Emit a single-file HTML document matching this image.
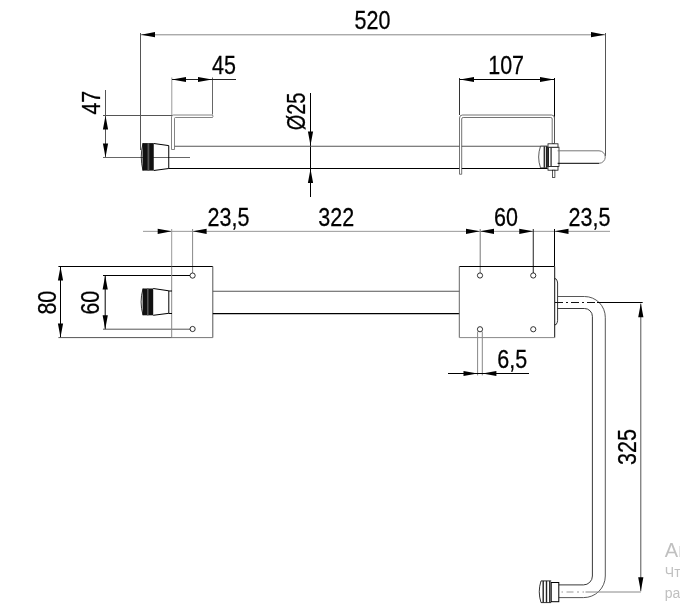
<!DOCTYPE html>
<html><head><meta charset="utf-8"><style>
html,body{margin:0;padding:0;background:#fff;width:680px;height:614px;overflow:hidden}
svg{display:block}
text{font-family:"Liberation Sans",sans-serif;fill:#000;stroke:#000;stroke-width:0.28px}
svg{filter:grayscale(1)}
.wm{position:absolute;left:664.8px;font-family:"Liberation Sans",sans-serif;color:#c0c0c0;white-space:nowrap;filter:grayscale(1)}
</style></head><body>
<svg width="680" height="614" viewBox="0 0 680 614">
<line x1="140.50" y1="34.80" x2="605.50" y2="34.80" stroke="#888" stroke-width="1.00"/>
<line x1="140.50" y1="33.00" x2="140.50" y2="150.00" stroke="#555" stroke-width="1.00"/>
<line x1="605.50" y1="33.00" x2="605.50" y2="156.00" stroke="#555" stroke-width="1.00"/>
<polygon points="141.00,34.70 155.00,32.10 155.00,37.30" fill="#000"/>
<polygon points="605.00,34.70 591.00,32.10 591.00,37.30" fill="#000"/>
<text transform="translate(354.50,29.40) scale(0.850,1)" font-size="25.30">520</text>
<line x1="171.80" y1="77.50" x2="171.80" y2="115.00" stroke="#999" stroke-width="1.00"/>
<line x1="212.50" y1="77.50" x2="212.50" y2="114.50" stroke="#666" stroke-width="1.00"/>
<line x1="172.00" y1="79.50" x2="236.00" y2="79.50" stroke="#222" stroke-width="1.00"/>
<polygon points="172.00,79.50 186.00,76.90 186.00,82.10" fill="#000"/>
<polygon points="212.00,79.50 198.00,76.90 198.00,82.10" fill="#000"/>
<text transform="translate(212.00,74.10) scale(0.850,1)" font-size="25.30">45</text>
<line x1="459.50" y1="78.00" x2="459.50" y2="115.00" stroke="#333" stroke-width="1.00"/>
<line x1="554.50" y1="78.00" x2="554.50" y2="143.00" stroke="#000" stroke-width="1.00"/>
<line x1="459.50" y1="79.50" x2="554.50" y2="79.50" stroke="#000" stroke-width="1.00"/>
<polygon points="460.00,79.50 474.00,76.90 474.00,82.10" fill="#000"/>
<polygon points="554.00,79.50 540.00,76.90 540.00,82.10" fill="#000"/>
<text transform="translate(488.20,74.10) scale(0.850,1)" font-size="25.30">107</text>
<line x1="105.50" y1="90.00" x2="105.50" y2="157.50" stroke="#555" stroke-width="1.00"/>
<line x1="103.00" y1="115.50" x2="172.00" y2="115.50" stroke="#555" stroke-width="1.00"/>
<line x1="103.00" y1="157.50" x2="190.00" y2="157.50" stroke="#666" stroke-width="1.00"/>
<polygon points="105.50,115.50 102.90,129.50 108.10,129.50" fill="#000"/>
<polygon points="105.50,157.50 102.90,143.50 108.10,143.50" fill="#000"/>
<text transform="translate(100.00,114.60) rotate(-90) scale(0.850,1)" font-size="25.30">47</text>
<line x1="310.50" y1="93.00" x2="310.50" y2="197.00" stroke="#000" stroke-width="1.00"/>
<polygon points="310.50,145.50 307.90,131.50 313.10,131.50" fill="#000"/>
<polygon points="310.50,169.00 307.90,183.00 313.10,183.00" fill="#000"/>
<text transform="translate(305.40,130.30) rotate(-90) scale(0.790,1)" font-size="25.30">&#216;25</text>
<line x1="172.50" y1="146.25" x2="547.60" y2="146.25" stroke="#555" stroke-width="1.00"/>
<line x1="168.75" y1="168.50" x2="547.60" y2="168.50" stroke="#000" stroke-width="1.20"/>
<rect x="142.5" y="143.1" width="11.25" height="27.5" fill="#111"/>
<rect x="147.5" y="143.1" width="1.8" height="27.5" fill="#555"/>
<path d="M153.75,143.5 L168.75,145.6 L168.75,168.5 L153.75,170.5" fill="none" stroke="#000" stroke-width="1"/>
<path d="M143,143.3 Q139.5,157 143,170.5" fill="none" stroke="#000" stroke-width="0.8"/>
<path d="M171.5,149.5 L171.5,117 Q171.5,115 173.5,115 L212.5,115 Q213.5,116.25 212.5,117.5 L175.5,117.5 Q174.5,117.5 174.5,118.5 L174.5,149.5 Z" fill="#fff" stroke="#666" stroke-width="0.8"/>
<path d="M459.5,174.25 L459.5,118 Q459.5,115 462.5,115 L551.5,115 Q554.5,115 554.5,118 L554.5,143.5 L552.2,143.5 L552.2,119 Q552.2,117.5 550.7,117.5 L463.2,117.5 Q461.7,117.5 461.7,119 L461.7,174.25 Z" fill="#fff" stroke="#444" stroke-width="0.75"/>
<path d="M547.3,146.2 L540.5,146.2 Q536.8,157 540.5,167.8 L547.3,167.8" fill="#fff" stroke="#111" stroke-width="0.7"/>
<rect x="543.6" y="146.2" width="1.6" height="21.6" fill="#333"/>
<rect x="546" y="146.2" width="1.3" height="21.6" fill="#222"/>
<rect x="547.3" y="147.2" width="11.7" height="19.2" fill="#fff" stroke="#222" stroke-width="0.8"/>
<rect x="547.3" y="147.2" width="1.7" height="19.2" fill="#222"/>
<rect x="550.4" y="147.2" width="1.4" height="19.2" fill="#444"/>
<rect x="548" y="143.8" width="10" height="3.4" fill="#fff" stroke="#111" stroke-width="0.8"/>
<rect x="548" y="166.4" width="10" height="3.8" fill="#fff" stroke="#111" stroke-width="0.8"/>
<path d="M557.6,150.8 L599,150.8 A6.25,6.25 0 0 1 599,163.3" fill="none" stroke="#777" stroke-width="1"/>
<path d="M599,163.3 L557.6,163.3" fill="none" stroke="#000" stroke-width="1"/>
<rect x="552.5" y="170.2" width="2.4" height="7.2" fill="#fff" stroke="#111" stroke-width="0.7"/>
<line x1="143.00" y1="231.35" x2="610.00" y2="231.35" stroke="#999" stroke-width="1.00"/>
<polygon points="171.70,231.35 157.70,228.75 157.70,233.95" fill="#000"/>
<polygon points="192.60,231.35 206.60,228.75 206.60,233.95" fill="#000"/>
<polygon points="480.00,231.35 466.00,228.75 466.00,233.95" fill="#000"/>
<polygon points="480.00,231.35 494.00,228.75 494.00,233.95" fill="#000"/>
<polygon points="533.25,231.35 519.25,228.75 519.25,233.95" fill="#000"/>
<polygon points="554.50,231.35 568.50,228.75 568.50,233.95" fill="#000"/>
<line x1="171.70" y1="229.00" x2="171.70" y2="266.50" stroke="#999" stroke-width="1.00"/>
<line x1="192.60" y1="229.00" x2="192.60" y2="273.00" stroke="#888" stroke-width="1.00"/>
<line x1="480.20" y1="229.00" x2="480.20" y2="273.00" stroke="#777" stroke-width="1.00"/>
<line x1="533.25" y1="229.00" x2="533.25" y2="273.00" stroke="#222" stroke-width="1.00"/>
<line x1="554.50" y1="229.00" x2="554.50" y2="266.00" stroke="#000" stroke-width="1.00"/>
<text transform="translate(207.50,225.60) scale(0.850,1)" font-size="25.30">23,5</text>
<text transform="translate(318.30,225.60) scale(0.850,1)" font-size="25.30">322</text>
<text transform="translate(494.00,225.60) scale(0.850,1)" font-size="25.30">60</text>
<text transform="translate(568.50,225.60) scale(0.850,1)" font-size="25.30">23,5</text>
<line x1="60.50" y1="266.20" x2="60.50" y2="337.60" stroke="#000" stroke-width="1.00"/>
<line x1="58.40" y1="266.50" x2="172.00" y2="266.50" stroke="#000" stroke-width="1.00"/>
<line x1="58.40" y1="337.60" x2="172.00" y2="337.60" stroke="#555" stroke-width="1.00"/>
<polygon points="60.50,266.50 57.90,280.50 63.10,280.50" fill="#000"/>
<polygon points="60.50,337.60 57.90,323.60 63.10,323.60" fill="#000"/>
<text transform="translate(55.60,314.60) rotate(-90) scale(0.850,1)" font-size="25.30">80</text>
<line x1="105.20" y1="275.50" x2="105.20" y2="329.20" stroke="#000" stroke-width="1.00"/>
<line x1="103.00" y1="275.50" x2="190.00" y2="275.50" stroke="#000" stroke-width="1.00"/>
<line x1="103.00" y1="329.20" x2="190.00" y2="329.20" stroke="#555" stroke-width="1.00"/>
<polygon points="105.20,275.50 102.60,289.50 107.80,289.50" fill="#000"/>
<polygon points="105.20,329.20 102.60,315.20 107.80,315.20" fill="#000"/>
<text transform="translate(99.30,314.60) rotate(-90) scale(0.850,1)" font-size="25.30">60</text>
<line x1="172.00" y1="266.50" x2="212.80" y2="266.50" stroke="#000" stroke-width="1.00"/>
<line x1="171.70" y1="266.50" x2="171.70" y2="337.60" stroke="#888" stroke-width="1.00"/>
<line x1="212.80" y1="266.50" x2="212.80" y2="337.60" stroke="#555" stroke-width="1.00"/>
<line x1="172.00" y1="337.60" x2="212.80" y2="337.60" stroke="#777" stroke-width="1.00"/>
<circle cx="192.6" cy="275.6" r="2.6" fill="#fff" stroke="#000" stroke-width="0.8"/>
<circle cx="192.6" cy="329" r="2.6" fill="#fff" stroke="#000" stroke-width="0.8"/>
<rect x="142.6" y="288.5" width="10.6" height="26.8" fill="#111"/>
<rect x="147" y="288.5" width="1.6" height="26.8" fill="#555"/>
<path d="M153.2,288.5 L168.8,290.8 L168.8,313.3 L153.2,315.3" fill="none" stroke="#000" stroke-width="1"/>
<path d="M143,288.7 Q139.2,302 143,315.1" fill="none" stroke="#000" stroke-width="0.8"/>
<line x1="168.80" y1="291.00" x2="172.00" y2="291.00" stroke="#000" stroke-width="1.00"/>
<line x1="168.80" y1="313.50" x2="172.00" y2="313.50" stroke="#000" stroke-width="1.00"/>
<line x1="212.80" y1="291.25" x2="459.50" y2="291.25" stroke="#555" stroke-width="1.00"/>
<line x1="212.80" y1="313.60" x2="459.50" y2="313.60" stroke="#000" stroke-width="1.20"/>
<line x1="459.30" y1="266.50" x2="554.70" y2="266.50" stroke="#000" stroke-width="1.00"/>
<line x1="459.30" y1="266.50" x2="459.30" y2="337.60" stroke="#666" stroke-width="1.00"/>
<line x1="554.70" y1="266.50" x2="554.70" y2="337.60" stroke="#111" stroke-width="1.00"/>
<line x1="459.30" y1="337.60" x2="554.70" y2="337.60" stroke="#888" stroke-width="1.00"/>
<circle cx="480.00" cy="275.50" r="2.6" fill="#fff" stroke="#000" stroke-width="0.8"/>
<circle cx="480.00" cy="329.25" r="2.6" fill="#fff" stroke="#000" stroke-width="0.8"/>
<circle cx="533.25" cy="275.50" r="2.6" fill="#fff" stroke="#000" stroke-width="0.8"/>
<circle cx="533.25" cy="329.25" r="2.6" fill="#fff" stroke="#000" stroke-width="0.8"/>
<line x1="477.60" y1="331.50" x2="477.60" y2="375.40" stroke="#888" stroke-width="1.00"/>
<line x1="482.30" y1="331.50" x2="482.30" y2="375.40" stroke="#888" stroke-width="1.00"/>
<line x1="448.00" y1="373.50" x2="529.00" y2="373.50" stroke="#000" stroke-width="1.00"/>
<polygon points="477.50,373.50 463.50,370.90 463.50,376.10" fill="#000"/>
<polygon points="482.40,373.50 496.40,370.90 496.40,376.10" fill="#000"/>
<text transform="translate(497.30,368.10) scale(0.850,1)" font-size="25.30">6,5</text>
<path d="M554.7,278.8 L556,278.8 Q557.6,281 557.6,283 L557.6,320.5 Q557.6,322.5 556,324.7 L554.7,324.7" fill="none" stroke="#000" stroke-width="0.8"/>
<path d="M557.6,296.5 L584.5,296.5 A20.8,20.8 0 0 1 605.3,317.3 L605.3,576 A21.6,21.6 0 0 1 583.5,597.6 L558.8,597.6" fill="none" stroke="#444" stroke-width="0.9"/>
<path d="M557.6,308.5 L584.5,308.5 A7.9,7.9 0 0 1 592.4,316.4 L592.4,576 A8.9,8.9 0 0 1 583.5,584.9 L558.8,584.9" fill="none" stroke="#222" stroke-width="0.9"/>
<line x1="555" y1="302.5" x2="598" y2="302.5" stroke="#111" stroke-width="1" stroke-dasharray="8,3,2,3"/>
<line x1="597.00" y1="302.50" x2="642.70" y2="302.50" stroke="#000" stroke-width="1.00"/>
<line x1="556" y1="592" x2="585.5" y2="592" stroke="#999" stroke-width="1" stroke-dasharray="2,3.5,1.5,3.5,7,3.5"/>
<line x1="585.5" y1="592" x2="640.8" y2="592" stroke="#888" stroke-width="1"/>
<line x1="640.80" y1="303.70" x2="640.80" y2="591.20" stroke="#555" stroke-width="1.00"/>
<polygon points="640.80,303.20 638.20,317.20 643.40,317.20" fill="#000"/>
<polygon points="640.80,591.20 638.20,577.20 643.40,577.20" fill="#000"/>
<text transform="translate(635.90,464.90) rotate(-90) scale(0.850,1)" font-size="25.30">325</text>
<path d="M551.2,580.9 L541,580.9 Q537.5,591.7 541,602.6 L551.2,602.6" fill="#fff" stroke="#000" stroke-width="0.8"/>
<rect x="542.50" y="580.9" width="1.4" height="21.7" fill="#222"/>
<rect x="545.80" y="580.9" width="1.4" height="21.7" fill="#222"/>
<rect x="549.10" y="580.9" width="1.4" height="21.7" fill="#222"/>
<rect x="551.2" y="582.5" width="7.6" height="19.2" fill="#fff" stroke="#000" stroke-width="1"/>
</svg>
<div class="wm" style="top:539px;font-size:20px">Активация Windows</div>
<div class="wm" style="top:564.2px;font-size:14px">Чтобы активировать Windows,</div>
<div class="wm" style="top:585px;font-size:14px">раздел "Параметры"</div>
</body></html>
